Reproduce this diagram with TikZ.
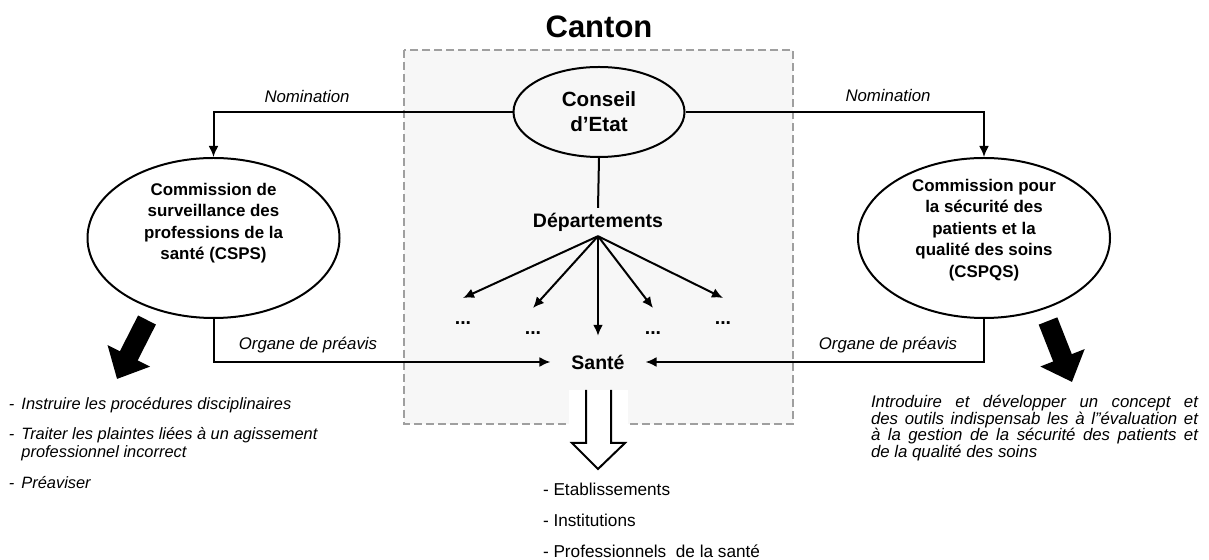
\documentclass[tikz,border=0pt]{standalone}
\usepackage{fontspec}
\setmainfont{Liberation Sans}
\usetikzlibrary{positioning,shapes.geometric,arrows.meta}
\begin{document}
\begin{tikzpicture}[x=0.5pt,y=-0.5pt,line width=1pt,
    commission/.style={draw,ellipse,line width=1pt,minimum width=126pt,minimum height=80pt},
    gras/.style={align=center,inner sep=2pt,font=\fontsize{8.45}{10.75}\selectfont\bfseries},
    titre/.style={inner sep=2pt,font=\fontsize{9.75}{11}\selectfont\bfseries},
    etiquette/.style={inner sep=1pt,font=\fontsize{8.4}{10}\selectfont\itshape},
    puce/.style={anchor=west,inner sep=0pt,align=left,font=\fontsize{8.2}{9}\selectfont\itshape},
    dots/.style={anchor=base,inner sep=1pt,text height=12pt,font=\fontsize{9.75}{11}\selectfont\bfseries},
    fleche/.style={-{Latex[length=5.5pt,width=5pt]}},
    grosse/.style={line width=10pt,-{Triangle[width=23pt,length=13pt]}}]
    \useasboundingbox(0,0)rectangle(1209,560);
    % canton
    \node[font=\fontsize{15.5}{18}\selectfont\bfseries]at(599,27)(canton){Canton};
    \draw[draw=gray!75,fill=gray!6,line width=0.75pt,dash pattern=on 4pt off 2pt](404,50)rectangle(793,424);
    \node[draw,ellipse,line width=1pt,minimum width=85.5pt,minimum height=45pt,align=center,
        font=\fontsize{10.3}{12.5}\selectfont\bfseries]at(599,112)(ce){Conseil\\d’Etat};
    \node[titre]at(598,222)(dep){Départements};
    \node[titre]at(598,362)(sante){Santé};
    % commissions
    \node[commission]at(213.5,238)(cs){};
    \node[gras]at(213.5,223)(cstxt){Commission de\\surveillance des\\professions de la\\santé (CSPS)};
    \node[commission]at(984,238)(cq){};
    \node[gras]at(984,230)(cqtxt){Commission pour\\la sécurité des\\patients et la\\qualité des soins\\(CSPQS)};
    \draw[fleche](ce.west)-|(cs.north);
    \draw[fleche](ce.east)-|(cq.north);
    \node[etiquette]at(307,97)(nom1){Nomination};
    \node[etiquette]at(888,96)(nom2){Nomination};
    % departements
    \draw(ce.south)--(dep.north);
    \node[dots]at(463,325)(d1){...};
    \node[dots]at(533,335)(d2){...};
    \node[dots]at(653,335)(d4){...};
    \node[dots]at(723,325)(d5){...};
    \foreach \d in {d1,d2,d4,d5}
        \draw[fleche](dep.south)--(\d.north);
    \draw[fleche,shorten >=7pt](dep.south)--(sante.north);
    % preavis
    \draw[fleche,shorten >=8pt](cs.south)|-(sante.west);
    \draw[fleche,shorten >=8pt](cq.south)|-(sante.east);
    \node[etiquette]at(308,345)(pre1){Organe de préavis};
    \node[etiquette]at(888,345)(pre2){Organe de préavis};
    % grosses fleches
    \coordinate(csa)at(147,320);\coordinate(csb)at(117,379);
    \coordinate(cqa)at(1048,321);\coordinate(cqb)at(1072,382);
    \draw[grosse](csa)--(csb);
    \draw[grosse](cqa)--(cqb);
    % fleche creuse
    \fill[white](569,390)rectangle(628,428);
    \draw[line join=miter](586,390)--(586,443)--(572,443)--(598,469)--(625,443)--(611,443)--(611,390);
    % listes
    \node[puce]at(8,405)(l1){-\hspace{3.5pt}Instruire les procédures disciplinaires};
    \node[puce]at(8,444)(l2){-\hspace{3.5pt}Traiter les plaintes liées à un agissement\\\hphantom{-}\hspace{3.5pt}professionnel incorrect};
    \node[puce]at(8,483)(l3){-\hspace{3.5pt}Préaviser};
    \node[anchor=west,inner sep=0pt,text width=163.5pt,align=justify,
        font=\fontsize{8.4}{8.3}\selectfont\itshape]at(870,428)(r1){\tolerance=9999 Introduire et développer un concept et\linebreak
        des outils indispensab les à l"évaluation et\linebreak
        à la gestion de la sécurité des patients et\linebreak
        de la qualité des soins};
    \node[puce,font=\fontsize{8.6}{10}\selectfont]at(542,489)(b1){- Etablissements};
    \node[puce,font=\fontsize{8.6}{10}\selectfont]at(542,520)(b2){- Institutions};
    \node[puce,font=\fontsize{8.6}{10}\selectfont]at(542,551)(b3){- Professionnels\ \ de la santé};
\end{tikzpicture}
\end{document}
